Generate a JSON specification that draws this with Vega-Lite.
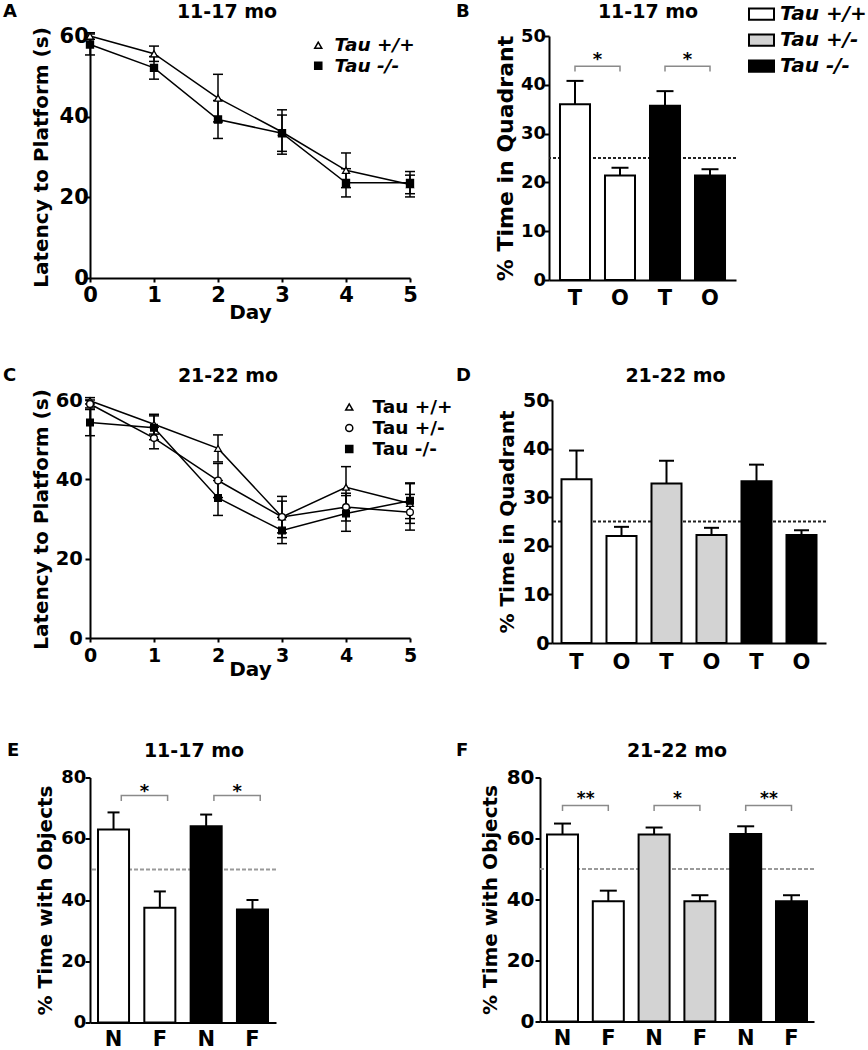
{
  "$schema": "https://vega.github.io/schema/vega-lite/v6.json",
  "background": "white",
  "padding": {"left": 3, "top": 0, "right": 0, "bottom": 0},
  "config": {
    "font": "DejaVu Sans",
    "view": {"stroke": null},
    "axis": {"domainColor": "black", "domainWidth": 2, "tickColor": "black", "tickWidth": 2, "labelColor": "black", "labelFont": "DejaVu Sans", "labelFontWeight": "bold", "titleFont": "DejaVu Sans", "titleFontWeight": "bold", "titleColor": "black", "grid": false, "labelOverlap": false, "labelFlush": false, "labelBound": false},
    "title": {"font": "DejaVu Sans", "fontWeight": "bold", "fontSize": 19, "color": "black", "anchor": "middle", "frame": "group", "baseline": "top", "offset": -19},
    "legend": {"padding": 0, "labelColor": "black", "labelFont": "DejaVu Sans", "labelFontWeight": "bold"},
    "text": {"font": "DejaVu Sans", "fontWeight": "bold", "color": "black"}
  },
  "datasets": {
    "lineA": [
      {"g": "Tau +/+", "day": 0, "m": 60.0, "lo": 59.2, "hi": 60.8},
      {"g": "Tau +/+", "day": 1, "m": 55.6, "lo": 53.7, "hi": 57.5},
      {"g": "Tau +/+", "day": 2, "m": 44.6, "lo": 38.7, "hi": 50.5},
      {"g": "Tau +/+", "day": 3, "m": 36.2, "lo": 30.7, "hi": 41.7},
      {"g": "Tau +/+", "day": 4, "m": 26.7, "lo": 22.4, "hi": 31.0},
      {"g": "Tau +/+", "day": 5, "m": 23.2, "lo": 20.1, "hi": 26.4},
      {"g": "Tau -/-", "day": 0, "m": 57.9, "lo": 55.3, "hi": 60.5},
      {"g": "Tau -/-", "day": 1, "m": 52.1, "lo": 49.3, "hi": 54.9},
      {"g": "Tau -/-", "day": 2, "m": 39.3, "lo": 34.6, "hi": 44.0},
      {"g": "Tau -/-", "day": 3, "m": 35.9, "lo": 31.4, "hi": 40.4},
      {"g": "Tau -/-", "day": 4, "m": 23.6, "lo": 20.1, "hi": 27.1},
      {"g": "Tau -/-", "day": 5, "m": 23.6, "lo": 20.9, "hi": 25.5}
    ],
    "lineC": [
      {"g": "Tau +/+", "day": 0, "m": 59.8, "lo": 59.0, "hi": 60.6},
      {"g": "Tau +/+", "day": 1, "m": 53.9, "lo": 51.4, "hi": 56.4},
      {"g": "Tau +/+", "day": 2, "m": 47.8, "lo": 44.4, "hi": 51.2},
      {"g": "Tau +/+", "day": 3, "m": 30.5, "lo": 25.3, "hi": 35.7},
      {"g": "Tau +/+", "day": 4, "m": 38.0, "lo": 32.8, "hi": 43.2},
      {"g": "Tau +/+", "day": 5, "m": 33.9, "lo": 28.9, "hi": 38.9},
      {"g": "Tau +/-", "day": 0, "m": 59.0, "lo": 58.0, "hi": 60.0},
      {"g": "Tau +/-", "day": 1, "m": 50.4, "lo": 47.7, "hi": 53.1},
      {"g": "Tau +/-", "day": 2, "m": 39.7, "lo": 35.4, "hi": 44.0},
      {"g": "Tau +/-", "day": 3, "m": 30.5, "lo": 26.5, "hi": 34.5},
      {"g": "Tau +/-", "day": 4, "m": 33.0, "lo": 29.5, "hi": 36.5},
      {"g": "Tau +/-", "day": 5, "m": 31.7, "lo": 27.2, "hi": 36.2},
      {"g": "Tau -/-", "day": 0, "m": 54.3, "lo": 51.0, "hi": 57.6},
      {"g": "Tau -/-", "day": 1, "m": 53.0, "lo": 50.0, "hi": 56.0},
      {"g": "Tau -/-", "day": 2, "m": 35.3, "lo": 30.9, "hi": 39.7},
      {"g": "Tau -/-", "day": 3, "m": 27.1, "lo": 23.8, "hi": 30.4},
      {"g": "Tau -/-", "day": 4, "m": 31.4, "lo": 26.9, "hi": 35.9},
      {"g": "Tau -/-", "day": 5, "m": 34.6, "lo": 30.1, "hi": 39.1}
    ],
    "barB": [
      {"pos": "T1", "g": "Tau +/+", "m": 36.0, "hi": 40.8},
      {"pos": "O1", "g": "Tau +/+", "m": 21.4, "hi": 23.0},
      {"pos": "T2", "g": "Tau -/-", "m": 35.7, "hi": 38.7},
      {"pos": "O2", "g": "Tau -/-", "m": 21.4, "hi": 22.7}
    ],
    "barD": [
      {"pos": "T1", "g": "Tau +/+", "m": 33.7, "hi": 39.6},
      {"pos": "O1", "g": "Tau +/+", "m": 22.0, "hi": 23.9},
      {"pos": "T2", "g": "Tau +/-", "m": 32.8, "hi": 37.5},
      {"pos": "O2", "g": "Tau +/-", "m": 22.2, "hi": 23.7},
      {"pos": "T3", "g": "Tau -/-", "m": 33.3, "hi": 36.7},
      {"pos": "O3", "g": "Tau -/-", "m": 22.2, "hi": 23.2}
    ],
    "barE": [
      {"pos": "N1", "g": "Tau +/+", "m": 63.0, "hi": 68.6},
      {"pos": "F1", "g": "Tau +/+", "m": 37.5, "hi": 42.8},
      {"pos": "N2", "g": "Tau -/-", "m": 64.1, "hi": 67.9},
      {"pos": "F2", "g": "Tau -/-", "m": 36.9, "hi": 40.0}
    ],
    "barF": [
      {"pos": "N1", "g": "Tau +/+", "m": 61.3, "hi": 64.9},
      {"pos": "F1", "g": "Tau +/+", "m": 39.4, "hi": 42.9},
      {"pos": "N2", "g": "Tau +/-", "m": 61.3, "hi": 63.6},
      {"pos": "F2", "g": "Tau +/-", "m": 39.4, "hi": 41.4},
      {"pos": "N3", "g": "Tau -/-", "m": 61.5, "hi": 64.0},
      {"pos": "F3", "g": "Tau -/-", "m": 39.4, "hi": 41.4}
    ],
    "brB": [
      {"bk": 1, "k": 1, "pos": "T1", "y": 42.7}, {"bk": 1, "k": 2, "pos": "T1", "y": 43.8},
      {"bk": 1, "k": 3, "pos": "O1", "y": 43.8}, {"bk": 1, "k": 4, "pos": "O1", "y": 42.7},
      {"bk": 2, "k": 1, "pos": "T2", "y": 42.7}, {"bk": 2, "k": 2, "pos": "T2", "y": 43.8},
      {"bk": 2, "k": 3, "pos": "O2", "y": 43.8}, {"bk": 2, "k": 4, "pos": "O2", "y": 42.7}
    ],
    "stB": [{"pos": "T1", "y": 44.0, "s": "*"}, {"pos": "T2", "y": 44.0, "s": "*"}],
    "brE": [
      {"bk": 1, "k": 1, "pos": "N1", "y": 72.3}, {"bk": 1, "k": 2, "pos": "N1", "y": 74.1},
      {"bk": 1, "k": 3, "pos": "F1", "y": 74.1}, {"bk": 1, "k": 4, "pos": "F1", "y": 72.3},
      {"bk": 2, "k": 1, "pos": "N2", "y": 72.3}, {"bk": 2, "k": 2, "pos": "N2", "y": 74.1},
      {"bk": 2, "k": 3, "pos": "F2", "y": 74.1}, {"bk": 2, "k": 4, "pos": "F2", "y": 72.3}
    ],
    "stE": [{"pos": "N1", "y": 73.7, "s": "*"}, {"pos": "N2", "y": 73.7, "s": "*"}],
    "brF": [
      {"bk": 1, "k": 1, "pos": "N1", "y": 69.0}, {"bk": 1, "k": 2, "pos": "N1", "y": 70.8},
      {"bk": 1, "k": 3, "pos": "F1", "y": 70.8}, {"bk": 1, "k": 4, "pos": "F1", "y": 69.0},
      {"bk": 2, "k": 1, "pos": "N2", "y": 69.0}, {"bk": 2, "k": 2, "pos": "N2", "y": 70.8},
      {"bk": 2, "k": 3, "pos": "F2", "y": 70.8}, {"bk": 2, "k": 4, "pos": "F2", "y": 69.0},
      {"bk": 3, "k": 1, "pos": "N3", "y": 69.0}, {"bk": 3, "k": 2, "pos": "N3", "y": 70.8},
      {"bk": 3, "k": 3, "pos": "F3", "y": 70.8}, {"bk": 3, "k": 4, "pos": "F3", "y": 69.0}
    ],
    "stF": [{"pos": "N1", "y": 71.3, "s": "**"}, {"pos": "N2", "y": 71.3, "s": "*"}, {"pos": "N3", "y": 71.3, "s": "**"}]
  },
  "spacing": 61.5,
  "align": "none",
  "resolve": {"scale": {"fill": "independent", "shape": "independent"}},
  "vconcat": [
    {
      "spacing": 44,
      "resolve": {"scale": {"fill": "independent", "shape": "independent"}},
      "vconcat": [
        {
          "hconcat": [
            {
              "width": 320, "height": 242,
              "title": {"text": "11-17 mo", "dx": -23},
              "layer": [
                {"data": {"name": "lineA"}, "mark": {"type": "line", "color": "black", "strokeWidth": 1.5},
                  "encoding": {
                    "x": {"field": "day", "type": "quantitative", "scale": {"domain": [0, 5]}, "axis": {"values": [0, 1, 2, 3, 4, 5], "format": "d", "title": "Day", "titleFontSize": 20, "labelFontSize": 21, "tickSize": 4, "labelPadding": 2, "titlePadding": -3}},
                    "y": {"field": "m", "type": "quantitative", "scale": {"domain": [0, 60]}, "axis": {"values": [0, 20, 40, 60], "title": "Latency to Platform (s)", "titleFontSize": 20, "labelFontSize": 21, "tickSize": 5, "labelPadding": -3.3, "titlePadding": 7.3}},
                    "detail": {"field": "g"}
                  }},
                {"data": {"name": "lineA"}, "mark": {"type": "rule", "color": "black", "strokeWidth": 1.5},
                  "encoding": {"x": {"field": "day", "type": "quantitative"}, "y": {"field": "lo", "type": "quantitative"}, "y2": {"field": "hi"}}},
                {"data": {"name": "lineA"}, "mark": {"type": "point", "shape": "stroke", "size": 100, "filled": false, "color": "black", "strokeWidth": 1.5, "opacity": 1},
                  "encoding": {"x": {"field": "day", "type": "quantitative"}, "y": {"field": "lo", "type": "quantitative"}}},
                {"data": {"name": "lineA"}, "mark": {"type": "point", "shape": "stroke", "size": 100, "filled": false, "color": "black", "strokeWidth": 1.5, "opacity": 1},
                  "encoding": {"x": {"field": "day", "type": "quantitative"}, "y": {"field": "hi", "type": "quantitative"}}},
                {"data": {"name": "lineA"}, "mark": {"type": "point", "filled": true, "stroke": "black", "strokeWidth": 1.3, "opacity": 1, "size": 50},
                  "encoding": {
                    "x": {"field": "day", "type": "quantitative"},
                    "y": {"field": "m", "type": "quantitative"},
                    "shape": {"field": "g", "type": "nominal", "scale": {"domain": ["Tau +/+", "Tau -/-"], "range": ["triangle-up", "square"]},
                      "legend": {"orient": "none", "legendX": 219, "legendY": 0, "title": null, "labelFontSize": 18.5, "labelFontStyle": "italic", "symbolSize": 50, "labelOffset": 7, "rowPadding": 1.5, "encode": {"symbols": {"update": {"stroke": {"value": "black"}, "strokeWidth": {"value": 1.5}}}}}},
                    "fill": {"field": "g", "type": "nominal", "scale": {"domain": ["Tau +/+", "Tau -/-"], "range": ["white", "black"]},
                      "legend": {"orient": "none", "legendX": 219, "legendY": 0, "title": null, "labelFontSize": 18.5, "labelFontStyle": "italic", "symbolSize": 50, "labelOffset": 7, "rowPadding": 1.5, "encode": {"symbols": {"update": {"stroke": {"value": "black"}, "strokeWidth": {"value": 1.5}}}}}}
                  }},
                {"data": {"values": [{"t": "A"}]}, "mark": {"type": "text", "align": "left", "baseline": "top", "fontSize": 18},
                  "encoding": {"x": {"datum": -1.359, "type": "quantitative"}, "y": {"datum": 68.2, "type": "quantitative"}, "text": {"field": "t"}}}
              ]
            },
            {
              "width": 187, "height": 244,
              "title": {"text": "11-17 mo", "dx": 5.5, "offset": -21.5},
              "layer": [
                {"data": {"values": [{"v": 25}]}, "mark": {"type": "rule", "color": "#222222", "strokeWidth": 2, "strokeDash": [3, 2]},
                  "encoding": {"y": {"field": "v", "type": "quantitative"}}},
                {"data": {"name": "barB"}, "mark": {"type": "rule", "color": "black", "strokeWidth": 2},
                  "encoding": {"x": {"field": "pos", "type": "nominal", "sort": null, "scale": {"domain": ["T1", "O1", "T2", "O2"], "paddingInner": 0.333, "paddingOuter": 0.244}, "axis": {"title": null, "ticks": false, "labelExpr": "substring(datum.label, 0, 1)", "labelFontSize": 21, "labelPadding": 7.7, "labelAngle": 0, "labelBaseline": "top"}}, "y": {"field": "m", "type": "quantitative"}, "y2": {"field": "hi"}}},
                {"data": {"name": "barB"}, "mark": {"type": "point", "shape": "stroke", "size": 289, "filled": false, "color": "black", "strokeWidth": 2, "opacity": 1},
                  "encoding": {"x": {"field": "pos", "type": "nominal"}, "y": {"field": "hi", "type": "quantitative"}}},
                {"data": {"name": "barB"}, "mark": {"type": "bar", "stroke": "black", "strokeWidth": 2},
                  "encoding": {
                    "x": {"field": "pos", "type": "nominal", "sort": null, "scale": {"domain": ["T1", "O1", "T2", "O2"], "paddingInner": 0.333, "paddingOuter": 0.244}, "axis": {"title": null, "ticks": false, "labelExpr": "substring(datum.label, 0, 1)", "labelFontSize": 21, "labelPadding": 7.7, "labelAngle": 0, "labelBaseline": "top"}},
                    "y": {"field": "m", "type": "quantitative", "scale": {"domain": [0, 50]}, "axis": {"values": [0, 10, 20, 30, 40, 50], "title": "% Time in Quadrant", "titleFontSize": 22, "labelFontSize": 18, "tickSize": 5, "labelPadding": -1.5, "titlePadding": 3}},
                    "fill": {"field": "g", "type": "nominal", "scale": {"domain": ["Tau +/+", "Tau +/-", "Tau -/-"], "range": ["white", "#d3d3d3", "black"]},
                      "legend": {"orient": "none", "legendX": 199, "legendY": -35.5, "title": null, "symbolType": "M-1,-0.45H1V0.45H-1Z", "symbolSize": 625, "symbolStrokeColor": "black", "symbolStrokeWidth": 2, "labelFontSize": 20, "labelFontStyle": "italic", "labelOffset": 5, "rowPadding": 2}}
                  }},
                {"data": {"name": "brB"}, "mark": {"type": "line", "color": "#8a8a8a", "strokeWidth": 1.5},
                  "encoding": {"x": {"field": "pos", "type": "nominal"}, "y": {"field": "y", "type": "quantitative"}, "detail": {"field": "bk"}, "order": {"field": "k"}}},
                {"data": {"name": "stB"}, "mark": {"type": "text", "baseline": "alphabetic", "align": "center", "fontSize": 18},
                  "encoding": {"x": {"field": "pos", "type": "nominal", "bandPosition": 1.25}, "y": {"field": "y", "type": "quantitative"}, "text": {"field": "s"}}},
                {"data": {"values": [{"t": "B"}]}, "mark": {"type": "text", "align": "left", "baseline": "top", "fontSize": 18, "dx": -104},
                  "encoding": {"x": {"datum": "T1", "type": "nominal", "bandPosition": 0}, "y": {"datum": 56.8, "type": "quantitative"}, "text": {"field": "t"}}}
              ]
            }
          ],
          "spacing": 139,
          "bounds": "flush",
          "resolve": {"scale": {"fill": "independent", "shape": "independent"}}
        },
        {
          "hconcat": [
            {
              "width": 320, "height": 238,
              "title": {"text": "21-22 mo", "dx": -22},
              "layer": [
                {"data": {"name": "lineC"}, "mark": {"type": "line", "color": "black", "strokeWidth": 1.5},
                  "encoding": {
                    "x": {"field": "day", "type": "quantitative", "scale": {"domain": [0, 5]}, "axis": {"values": [0, 1, 2, 3, 4, 5], "format": "d", "title": "Day", "titleFontSize": 20, "labelFontSize": 19, "tickSize": 4, "labelPadding": 4.7, "titlePadding": -6}},
                    "y": {"field": "m", "type": "quantitative", "scale": {"domain": [0, 60]}, "axis": {"values": [0, 20, 40, 60], "title": "Latency to Platform (s)", "titleFontSize": 20, "labelFontSize": 19.5, "tickSize": 5, "labelPadding": 2.6, "titlePadding": 4}},
                    "detail": {"field": "g"}
                  }},
                {"data": {"name": "lineC"}, "mark": {"type": "rule", "color": "black", "strokeWidth": 1.5},
                  "encoding": {"x": {"field": "day", "type": "quantitative"}, "y": {"field": "lo", "type": "quantitative"}, "y2": {"field": "hi"}}},
                {"data": {"name": "lineC"}, "mark": {"type": "point", "shape": "stroke", "size": 100, "filled": false, "color": "black", "strokeWidth": 1.5, "opacity": 1},
                  "encoding": {"x": {"field": "day", "type": "quantitative"}, "y": {"field": "lo", "type": "quantitative"}}},
                {"data": {"name": "lineC"}, "mark": {"type": "point", "shape": "stroke", "size": 100, "filled": false, "color": "black", "strokeWidth": 1.5, "opacity": 1},
                  "encoding": {"x": {"field": "day", "type": "quantitative"}, "y": {"field": "hi", "type": "quantitative"}}},
                {"data": {"name": "lineC"}, "mark": {"type": "point", "filled": true, "stroke": "black", "strokeWidth": 1.3, "opacity": 1, "size": 45},
                  "encoding": {
                    "x": {"field": "day", "type": "quantitative"},
                    "y": {"field": "m", "type": "quantitative"},
                    "shape": {"field": "g", "type": "nominal", "scale": {"domain": ["Tau +/+", "Tau +/-", "Tau -/-"], "range": ["triangle-up", "circle", "square"]},
                      "legend": {"orient": "none", "legendX": 250, "legendY": -2.2, "title": null, "labelFontSize": 18.5, "symbolSize": 50, "labelOffset": 14, "rowPadding": 2, "encode": {"symbols": {"update": {"stroke": {"value": "black"}, "strokeWidth": {"value": 1.5}}}}}},
                    "fill": {"field": "g", "type": "nominal", "scale": {"domain": ["Tau +/+", "Tau +/-", "Tau -/-"], "range": ["white", "white", "black"]},
                      "legend": {"orient": "none", "legendX": 250, "legendY": -2.2, "title": null, "labelFontSize": 18.5, "symbolSize": 50, "labelOffset": 14, "rowPadding": 2, "encode": {"symbols": {"update": {"stroke": {"value": "black"}, "strokeWidth": {"value": 1.5}}}}}}
                  }},
                {"data": {"values": [{"t": "C"}]}, "mark": {"type": "text", "align": "left", "baseline": "top", "fontSize": 18},
                  "encoding": {"x": {"datum": -1.359, "type": "quantitative"}, "y": {"datum": 68.4, "type": "quantitative"}, "text": {"field": "t"}}}
              ]
            },
            {
              "width": 274, "height": 243,
              "title": {"text": "21-22 mo", "dx": -13.5},
              "layer": [
                {"data": {"values": [{"v": 25}]}, "mark": {"type": "rule", "color": "#222222", "strokeWidth": 2, "strokeDash": [3, 2]},
                  "encoding": {"y": {"field": "v", "type": "quantitative"}}},
                {"data": {"name": "barD"}, "mark": {"type": "rule", "color": "black", "strokeWidth": 2},
                  "encoding": {"x": {"field": "pos", "type": "nominal", "sort": null, "scale": {"domain": ["T1", "O1", "T2", "O2", "T3", "O3"], "paddingInner": 0.333, "paddingOuter": 0.211}, "axis": {"title": null, "ticks": false, "labelExpr": "substring(datum.label, 0, 1)", "labelFontSize": 21, "labelPadding": 8.7, "labelAngle": 0, "labelBaseline": "top"}}, "y": {"field": "m", "type": "quantitative"}, "y2": {"field": "hi"}}},
                {"data": {"name": "barD"}, "mark": {"type": "point", "shape": "stroke", "size": 225, "filled": false, "color": "black", "strokeWidth": 2, "opacity": 1},
                  "encoding": {"x": {"field": "pos", "type": "nominal"}, "y": {"field": "hi", "type": "quantitative"}}},
                {"data": {"name": "barD"}, "mark": {"type": "bar", "stroke": "black", "strokeWidth": 2},
                  "encoding": {
                    "x": {"field": "pos", "type": "nominal", "sort": null, "scale": {"domain": ["T1", "O1", "T2", "O2", "T3", "O3"], "paddingInner": 0.333, "paddingOuter": 0.211}, "axis": {"title": null, "ticks": false, "labelExpr": "substring(datum.label, 0, 1)", "labelFontSize": 21, "labelPadding": 8.7, "labelAngle": 0, "labelBaseline": "top"}},
                    "y": {"field": "m", "type": "quantitative", "scale": {"domain": [0, 50]}, "axis": {"values": [0, 10, 20, 30, 40, 50], "title": "% Time in Quadrant", "titleFontSize": 20, "labelFontSize": 19, "tickSize": 5, "labelPadding": -2, "titlePadding": 5.5}},
                    "fill": {"field": "g", "type": "nominal", "scale": {"domain": ["Tau +/+", "Tau +/-", "Tau -/-"], "range": ["white", "#d3d3d3", "black"]}, "legend": null}
                  }},
                {"data": {"values": [{"t": "D"}]}, "mark": {"type": "text", "align": "left", "baseline": "top", "fontSize": 18, "dx": -105.5},
                  "encoding": {"x": {"datum": "T1", "type": "nominal", "bandPosition": 0}, "y": {"datum": 56.8, "type": "quantitative"}, "text": {"field": "t"}}}
              ]
            }
          ],
          "spacing": 142,
          "bounds": "flush",
          "resolve": {"scale": {"fill": "independent", "shape": "independent"}}
        }
      ]
    },
    {
      "hconcat": [
        {
          "width": 186, "height": 245,
          "title": {"text": "11-17 mo", "dx": 11},
          "layer": [
            {"data": {"values": [{"v": 50}]}, "mark": {"type": "rule", "color": "#9a9a9a", "strokeWidth": 2, "strokeDash": [4, 2]},
              "encoding": {"y": {"field": "v", "type": "quantitative"}}},
            {"data": {"name": "barE"}, "mark": {"type": "rule", "color": "black", "strokeWidth": 2},
              "encoding": {"x": {"field": "pos", "type": "nominal", "sort": null, "scale": {"domain": ["N1", "F1", "N2", "F2"], "paddingInner": 0.33, "paddingOuter": 0.173}, "axis": {"title": null, "ticks": false, "labelExpr": "substring(datum.label, 0, 1)", "labelFontSize": 21, "labelPadding": 5.7, "labelAngle": 0, "labelBaseline": "top"}}, "y": {"field": "m", "type": "quantitative"}, "y2": {"field": "hi"}}},
            {"data": {"name": "barE"}, "mark": {"type": "point", "shape": "stroke", "size": 144, "filled": false, "color": "black", "strokeWidth": 2, "opacity": 1},
              "encoding": {"x": {"field": "pos", "type": "nominal"}, "y": {"field": "hi", "type": "quantitative"}}},
            {"data": {"name": "barE"}, "mark": {"type": "bar", "stroke": "black", "strokeWidth": 2},
              "encoding": {
                "x": {"field": "pos", "type": "nominal", "sort": null, "scale": {"domain": ["N1", "F1", "N2", "F2"], "paddingInner": 0.33, "paddingOuter": 0.173}, "axis": {"title": null, "ticks": false, "labelExpr": "substring(datum.label, 0, 1)", "labelFontSize": 21, "labelPadding": 5.7, "labelAngle": 0, "labelBaseline": "top"}},
                "y": {"field": "m", "type": "quantitative", "scale": {"domain": [0, 80]}, "axis": {"values": [0, 20, 40, 60, 80], "title": "% Time with Objects", "titleFontSize": 20, "labelFontSize": 18, "tickSize": 5, "labelPadding": -0.7, "titlePadding": 5.5}},
                "fill": {"field": "g", "type": "nominal", "scale": {"domain": ["Tau +/+", "Tau +/-", "Tau -/-"], "range": ["white", "#d3d3d3", "black"]}, "legend": null}
              }},
            {"data": {"name": "brE"}, "mark": {"type": "line", "color": "#8a8a8a", "strokeWidth": 1.5},
              "encoding": {"x": {"field": "pos", "type": "nominal", "bandPosition": 0.75}, "y": {"field": "y", "type": "quantitative"}, "detail": {"field": "bk"}, "order": {"field": "k"}}},
            {"data": {"name": "stE"}, "mark": {"type": "text", "baseline": "alphabetic", "align": "center", "fontSize": 18},
              "encoding": {"x": {"field": "pos", "type": "nominal", "bandPosition": 1.5}, "y": {"field": "y", "type": "quantitative"}, "text": {"field": "s"}}},
            {"data": {"values": [{"t": "E"}]}, "mark": {"type": "text", "align": "left", "baseline": "top", "fontSize": 18, "dx": -91},
              "encoding": {"x": {"datum": "N1", "type": "nominal", "bandPosition": 0}, "y": {"datum": 91.6, "type": "quantitative"}, "text": {"field": "t"}}}
          ]
        },
        {
          "width": 274, "height": 244,
          "title": {"text": "21-22 mo", "dx": 0},
          "layer": [
            {"data": {"values": [{"v": 50}]}, "mark": {"type": "rule", "color": "#9a9a9a", "strokeWidth": 2, "strokeDash": [4, 2]},
              "encoding": {"y": {"field": "v", "type": "quantitative"}}},
            {"data": {"name": "barF"}, "mark": {"type": "rule", "color": "black", "strokeWidth": 2},
              "encoding": {"x": {"field": "pos", "type": "nominal", "sort": null, "scale": {"domain": ["N1", "F1", "N2", "F2", "N3", "F3"], "paddingInner": 0.323, "paddingOuter": 0.153}, "axis": {"title": null, "ticks": false, "labelExpr": "substring(datum.label, 0, 1)", "labelFontSize": 21, "labelPadding": 5.7, "labelAngle": 0, "labelBaseline": "top"}}, "y": {"field": "m", "type": "quantitative"}, "y2": {"field": "hi"}}},
            {"data": {"name": "barF"}, "mark": {"type": "point", "shape": "stroke", "size": 289, "filled": false, "color": "black", "strokeWidth": 2, "opacity": 1},
              "encoding": {"x": {"field": "pos", "type": "nominal"}, "y": {"field": "hi", "type": "quantitative"}}},
            {"data": {"name": "barF"}, "mark": {"type": "bar", "stroke": "black", "strokeWidth": 2},
              "encoding": {
                "x": {"field": "pos", "type": "nominal", "sort": null, "scale": {"domain": ["N1", "F1", "N2", "F2", "N3", "F3"], "paddingInner": 0.323, "paddingOuter": 0.153}, "axis": {"title": null, "ticks": false, "labelExpr": "substring(datum.label, 0, 1)", "labelFontSize": 21, "labelPadding": 5.7, "labelAngle": 0, "labelBaseline": "top"}},
                "y": {"field": "m", "type": "quantitative", "scale": {"domain": [0, 80]}, "axis": {"values": [0, 20, 40, 60, 80], "title": "% Time with Objects", "titleFontSize": 20, "labelFontSize": 20, "tickSize": 5, "labelPadding": 1, "titlePadding": 6}},
                "fill": {"field": "g", "type": "nominal", "scale": {"domain": ["Tau +/+", "Tau +/-", "Tau -/-"], "range": ["white", "#d3d3d3", "black"]}, "legend": null}
              }},
            {"data": {"name": "brF"}, "mark": {"type": "line", "color": "#8a8a8a", "strokeWidth": 1.5},
              "encoding": {"x": {"field": "pos", "type": "nominal"}, "y": {"field": "y", "type": "quantitative"}, "detail": {"field": "bk"}, "order": {"field": "k"}}},
            {"data": {"name": "stF"}, "mark": {"type": "text", "baseline": "alphabetic", "align": "center", "fontSize": 17},
              "encoding": {"x": {"field": "pos", "type": "nominal", "bandPosition": 1.25}, "y": {"field": "y", "type": "quantitative"}, "text": {"field": "s"}}},
            {"data": {"values": [{"t": "F"}]}, "mark": {"type": "text", "align": "left", "baseline": "top", "fontSize": 18, "dx": -91},
              "encoding": {"x": {"datum": "N1", "type": "nominal", "bandPosition": 0}, "y": {"datum": 91.6, "type": "quantitative"}, "text": {"field": "t"}}}
          ]
        }
      ],
      "spacing": 264,
      "bounds": "flush",
      "resolve": {"scale": {"fill": "independent", "shape": "independent"}}
    }
  ]
}
